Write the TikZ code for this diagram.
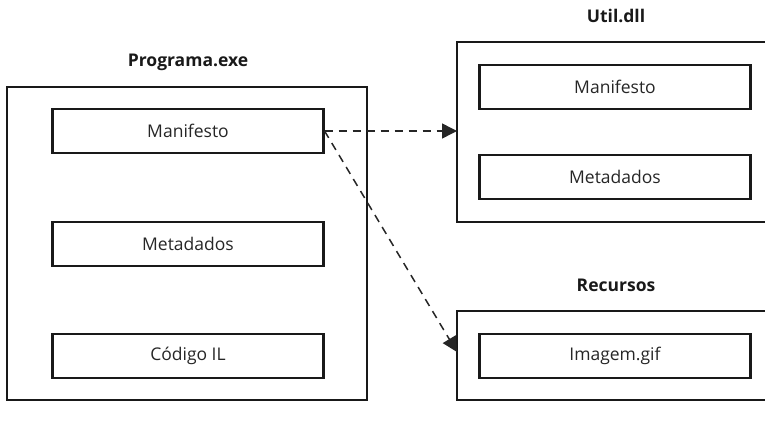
\documentclass[tikz,border=0pt]{standalone}
\usepackage{fontspec}
\setmainfont{Open Sans}
\usetikzlibrary{arrows.meta}
\tikzset{
  outerbox/.style={draw=black!90, line width=2.1pt},
  innerbox/.style={draw=black!90, line width=2.1pt, minimum width=271pt, minimum height=44pt, inner sep=0pt, text=black!85, font=\fontsize{17.5}{20}\selectfont},
  title/.style={font=\bfseries\fontsize{17.5}{20}\selectfont, text=black!90},
  link/.style={draw=black!85, line width=1.5pt, dash pattern=on 8pt off 6pt, -{Triangle[length=15pt,width=15pt]}}
}
\begin{document}
\begin{tikzpicture}[x=1pt,y=-1pt]
\useasboundingbox (0,0) rectangle (765,420);
\begin{scope}
\clip (0,0) rectangle (765,420);
\draw[outerbox] (7,87) rectangle (367,400);
\draw[outerbox] (457,42) rectangle (790,222);
\draw[outerbox] (457,311) rectangle (790,400);
\end{scope}
\node[title] (t1) at (188,62) {Programa.exe};
\node[title] (t2) at (616,16) {Util.dll};
\node[title] (t3) at (616,285) {Recursos};
\node[innerbox] (m1) at (188,131) {Manifesto};
\node[innerbox] (d1) at (188,244) {Metadados};
\node[innerbox] (c1) at (188,356) {Código IL};
\node[innerbox] (m2) at (615,87) {Manifesto};
\node[innerbox] (d2) at (615,177) {Metadados};
\node[innerbox] (i3) at (615,356) {Imagem.gif};
\coordinate (u) at (457,131);
\coordinate (r) at (457,352);
\draw[link] (m1.east) -- (u);
\draw[link] (m1.east) -- (r);
\end{tikzpicture}
\end{document}
